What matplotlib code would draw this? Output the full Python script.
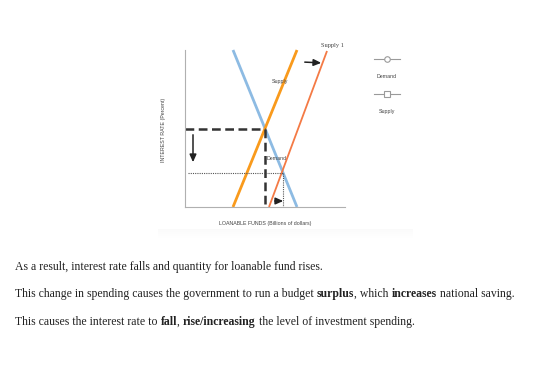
import matplotlib
matplotlib.use("Agg")
import matplotlib.pyplot as plt
import numpy as np
from matplotlib.lines import Line2D

W, H = 560, 368
fig = plt.figure(figsize=(W/100, H/100), dpi=100)
fig.patch.set_facecolor("white")

# ---- data (chart units) ----
demand_x = [48, 112]
demand_y = [157, 0]
supply_x = [48, 112]
supply_y = [0, 157]
supply1_x = [84, 142]
supply1_y = [0, 156]
eq_x, eq_y = 80, 78.5
new_eq_x, new_eq_y = 98, 34
labels = ["Supply 1", "Supply", "Demand"]
legend_labels = ["Demand", "Supply"]
text_lines = [
    [("As a result, interest rate falls and quantity for loanable fund rises.", "normal")],
    [("This change in spending causes the government to run a budget ", "normal"),
     ("surplus", "bold"), (", which ", "normal"), ("increases", "bold"),
     (" national saving.", "normal")],
    [("This causes the interest rate to ", "normal"), ("fall", "bold"),
     (", ", "normal"), ("rise/increasing", "bold"),
     (" the level of investment spending.", "normal")],
]

def fx(px):
    return px / W

def fy(py):
    return 1 - py / H

# subtle gradient band under the image
gax = fig.add_axes([fx(158), fy(238), fx(413) - fx(158), (238 - 229) / H])
grad = np.linspace(1.0, 0.0, 50).reshape(-1, 1)
gax.imshow(grad, aspect="auto", cmap="Greys", vmin=0, vmax=25, extent=[0, 1, 0, 1])
gax.axis("off")

# chart axes
ax = fig.add_axes([fx(185), fy(207), (345 - 185) / W, (207 - 50) / H])
ax.set_xlim(0, 160)
ax.set_ylim(0, 157)
ax.set_facecolor("none")
for s in ["top", "right"]:
    ax.spines[s].set_visible(False)
for s in ["left", "bottom"]:
    ax.spines[s].set_color("#b0b0b0")
    ax.spines[s].set_linewidth(0.8)
ax.set_xticks([])
ax.set_yticks([])

ax.plot(demand_x, demand_y, color="#8dbbe3", lw=2.0, clip_on=False, solid_capstyle="butt")
ax.plot(supply_x, supply_y, color="#f99a1c", lw=2.0, clip_on=False, solid_capstyle="butt")
ax.plot(supply1_x, supply1_y, color="#f47a45", lw=1.3, clip_on=False, solid_capstyle="butt")

# dashed equilibrium lines
ax.plot([0, eq_x], [eq_y, eq_y], color="#333333", lw=1.8, ls=(0, (3.5, 1.8)), clip_on=False)
ax.plot([eq_x, eq_x], [eq_y, 0], color="#333333", lw=1.8, ls=(0, (3.5, 1.8)), clip_on=False)
# dotted new equilibrium lines
ax.plot([3, new_eq_x], [new_eq_y, new_eq_y], color="#555555", lw=0.8, ls=(0, (1, 1)), clip_on=False)
ax.plot([new_eq_x, new_eq_x], [new_eq_y, 0], color="#555555", lw=0.8, ls=(0, (1, 1)), clip_on=False)

arrow_kw = dict(arrowstyle="-|>,head_length=0.45,head_width=0.2", color="#222222", lw=1.1)
ax.annotate("", xy=(8, 42), xytext=(8, 75), arrowprops=arrow_kw, annotation_clip=False)
ax.annotate("", xy=(101, 6), xytext=(87, 6), arrowprops=arrow_kw, annotation_clip=False)
ax.annotate("", xy=(139, 144), xytext=(117, 145), arrowprops=arrow_kw, annotation_clip=False)

ax.text(147, 162, labels[0], fontsize=4.6, family="Liberation Serif", color="#444444",
        ha="center", va="center", clip_on=False)
ax.text(95, 126, labels[1], fontsize=3.8, family="Liberation Sans", color="#444444",
        ha="center", va="center", clip_on=False)
ax.text(92, 48, labels[2], fontsize=3.8, family="Liberation Sans", color="#444444",
        ha="center", va="center", clip_on=False)

fig.text(fx(265), fy(223), "LOANABLE FUNDS (Billions of dollars)", fontsize=3.8,
         family="Liberation Sans", color="#444444", ha="center", va="center")
fig.text(fx(163), fy(130), "INTEREST RATE (Percent)", fontsize=3.8,
         family="Liberation Sans", color="#444444", ha="center", va="center", rotation=90)

# legend
for ypx, mk, lab, typ in [(59, "o", legend_labels[0], 76), (94, "s", legend_labels[1], 111)]:
    fig.add_artist(Line2D([fx(374), fx(400)], [fy(ypx), fy(ypx)], color="#9a9a9a", lw=0.8,
                          marker=None, transform=fig.transFigure))
    fig.add_artist(Line2D([fx(387)], [fy(ypx)], color="#9a9a9a", lw=0, marker=mk,
                          markersize=4, markerfacecolor="white", markeredgewidth=0.8,
                          transform=fig.transFigure))
    fig.text(fx(387), fy(typ), lab, fontsize=3.8, family="Liberation Sans",
             color="#444444", ha="center", va="center")

# paragraph text with mixed bold
fig.canvas.draw()
renderer = fig.canvas.get_renderer()
FS = 8.45

def width(txt, wt):
    t = fig.text(0, 0, txt, fontsize=FS, family="Liberation Serif", weight=wt)
    w = t.get_window_extent(renderer=renderer).width
    t.remove()
    return w

def advance(txt, wt):
    return width("|" + txt + "|", wt) - width("||", wt)

line_y = [267, 294, 322]
for segs, ypx in zip(text_lines, line_y):
    xpx = 15
    for txt, wt in segs:
        fig.text(fx(xpx), fy(ypx), txt, fontsize=FS, family="Liberation Serif",
                 weight=wt, color="#222222", ha="left", va="center")
        xpx += advance(txt, wt)

fig.savefig("out.png", dpi=100, facecolor="white")
